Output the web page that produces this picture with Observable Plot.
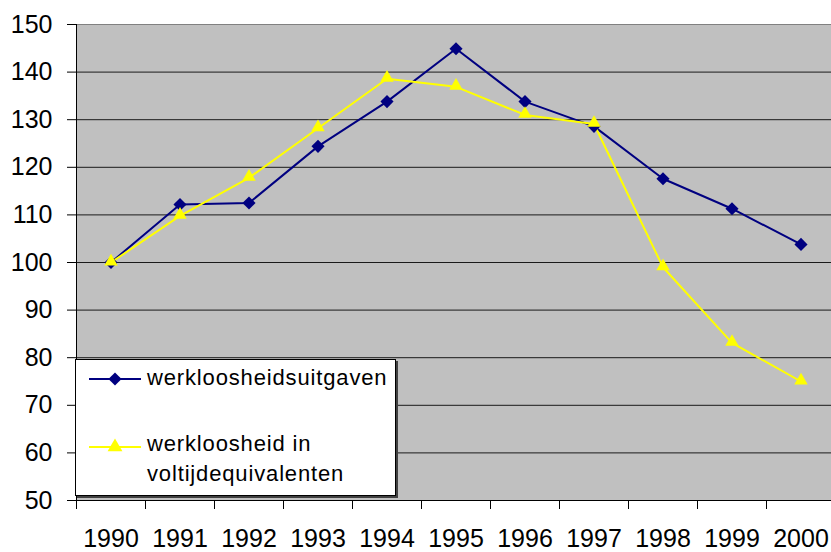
<!DOCTYPE html>
<html>
<head>
<meta charset="utf-8">
<script src="https://cdn.jsdelivr.net/npm/d3@7"></script>
<script src="https://cdn.jsdelivr.net/npm/@observablehq/plot@0.6"></script>
<style>
  body { margin: 0; background: #fff; font-family: "Liberation Sans", Arial, sans-serif; }
  #wrap { position: relative; width: 831px; height: 552px; overflow: hidden; background: #fff; }
  #legend { position: absolute; left: 75px; top: 359px; width: 321px; height: 137px; box-sizing: border-box;
            background: #fff; border: 1px solid #000; box-shadow: 2px 2px 0 #404040; }
  #legend svg { position: absolute; left: -1px; top: -1px; overflow: visible; }
</style>
</head>
<body>
<div id="wrap"></div>
<script>
const years = [1990, 1991, 1992, 1993, 1994, 1995, 1996, 1997, 1998, 1999, 2000];
const uitgaven = [100, 112.2, 112.5, 124.4, 133.8, 144.9, 133.8, 128.6, 117.6, 111.3, 103.8];
const voltijd = [100, 109.8, 117.8, 128.2, 138.6, 136.9, 131.0, 129.1, 99.0, 83.1, 75.0];
const yTicks = [50, 60, 70, 80, 90, 100, 110, 120, 130, 140, 150];
const gridTicks = [60, 70, 80, 90, 100, 110, 120, 130, 140];
const seriesNames = ["werkloosheidsuitgaven", ["werkloosheid in", "voltijdequivalenten"]];
const colors = ["#000080", "#ffff00"];

const bandEdges = years.map(y => y - 0.5).concat([years[years.length - 1] + 0.5]);
const rowsA = years.map((y, i) => ({year: y, value: uitgaven[i]}));
const rowsB = years.map((y, i) => ({year: y, value: voltijd[i]}));
const font = "'Liberation Sans', Arial, sans-serif";

const chart = Plot.plot({
  width: 831,
  height: 552,
  marginLeft: 76,
  marginRight: 0,
  marginTop: 24,
  marginBottom: 52,
  x: {domain: [bandEdges[0], bandEdges[bandEdges.length - 1]], range: [76, 835]},
  y: {domain: [50, 150]},
  style: {fontFamily: font, background: "transparent", color: "#000", overflow: "visible"},
  marks: [
    Plot.frame({fill: "#c0c0c0", stroke: null}),
    Plot.ruleY(gridTicks, {stroke: "#1a1a1a", strokeWidth: 1}),
    Plot.ruleY([150], {stroke: "#808080", strokeWidth: 1}),
    Plot.axisY({ticks: yTicks, tickSize: 9, tickPadding: 15, fontSize: 25, tickFormat: d => String(d), label: null}),
    Plot.axisX({ticks: bandEdges, tickSize: 9, tickFormat: () => "", label: null}),
    Plot.axisX({ticks: years, tickSize: 0, tickPadding: 28.5, fontSize: 25, tickFormat: d => String(d), label: null}),
    Plot.ruleX([bandEdges[0]], {stroke: "#000", strokeWidth: 1}),
    Plot.ruleY([50], {stroke: "#000", strokeWidth: 1}),
    Plot.line(rowsA, {x: "year", y: "value", stroke: colors[0], strokeWidth: 2}),
    Plot.line(rowsB, {x: "year", y: "value", stroke: colors[1], strokeWidth: 2}),
    Plot.dot(rowsA, {x: "year", y: "value", symbol: "diamond2", r: 5.9, fill: colors[0], stroke: null}),
    Plot.dot(rowsB, {x: "year", y: "value", symbol: "triangle", r: 5, fill: colors[1], stroke: null, dy: -1})
  ]
});

const wrap = document.getElementById("wrap");
wrap.appendChild(chart);

// Legend overlay
const legend = document.createElement("div");
legend.id = "legend";
wrap.appendChild(legend);
const lsvg = d3.select(legend).append("svg").attr("width", 321).attr("height", 137)
  .style("font-family", font);

function entry(y, color, symbolType, size, labelLines, baseline) {
  lsvg.append("line").attr("x1", 14).attr("x2", 66).attr("y1", y).attr("y2", y)
    .attr("stroke", color).attr("stroke-width", 2);
  lsvg.append("path").attr("d", d3.symbol(symbolType, size)())
    .attr("transform", `translate(40,${y})`).attr("fill", color);
  labelLines.forEach((t, i) => {
    lsvg.append("text").attr("x", 72).attr("y", baseline + i * 30)
      .attr("font-size", 22).attr("letter-spacing", "0.85px").attr("fill", "#000").text(t);
  });
}
entry(20, colors[0], d3.symbolDiamond2, Math.PI * 5.9 * 5.9, [seriesNames[0]], 26);
entry(88, colors[1], d3.symbolTriangle, Math.PI * 5.5 * 5.5, seriesNames[1], 92);
</script>
</body>
</html>
